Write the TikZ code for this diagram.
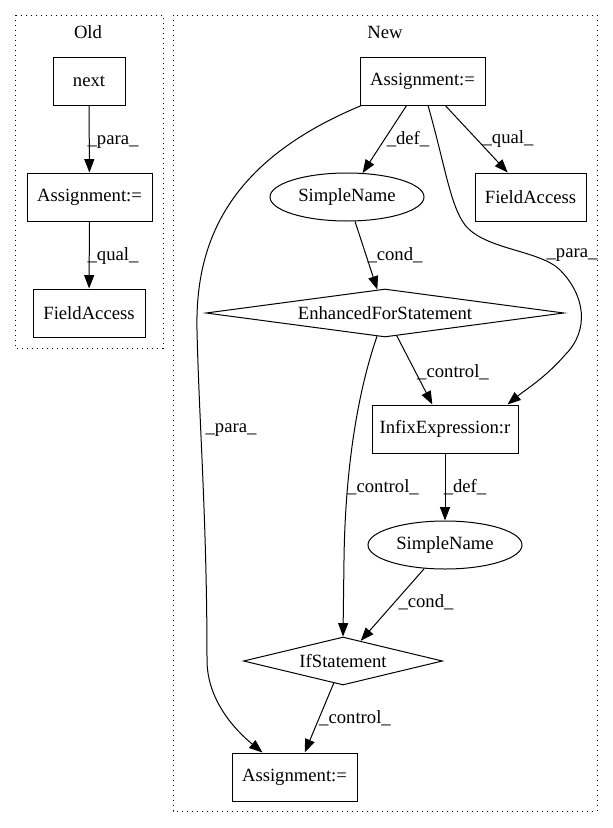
\documentclass[tikz,border=0pt]{standalone}
\usepackage{fontspec}
\setmainfont{Liberation Serif}
\usetikzlibrary{shapes.geometric,arrows.meta,calc}
\begin{document}
\begin{tikzpicture}[x=0.75pt,y=-0.75pt,
  every node/.style={font=\fontsize{14}{16}\selectfont, inner sep=0pt},
  box/.style={draw, rectangle, line width=0.75pt, minimum height=36pt},
  ell/.style={draw, ellipse, line width=0.75pt, minimum width=115.5pt, minimum height=36pt},
  dia/.style={draw, diamond, line width=0.75pt, minimum height=36pt},
  edge/.style={line width=0.75pt, -{Triangle[length=10pt,width=7.5pt]}},
  cluster/.style={draw, dash pattern=on 0.75pt off 3pt, line width=0.75pt}]
\useasboundingbox (0,0) rectangle (613,828);
% clusters
\draw[cluster] (15,15) rectangle (163,348);
\draw[cluster] (173,15) rectangle (597,811);
\node at (88,32) {Old};
\node at (385,32) {New};
% Old nodes
\node[box, minimum width=54pt] (next) at (89,81) {next};
\node[box, minimum width=93.75pt] (aold) at (89.5,197) {Assignment:=};
\node[box, minimum width=84pt] (faold) at (89,313) {FieldAccess};
\draw[edge] (next) -- (aold);
\draw[edge] (aold) -- (faold);
\node at (113,142) {\_para\_};
\node at (113,256) {\_qual\_};
% New nodes
\node[box, minimum width=93.75pt] (a1) at (422.5,81) {Assignment:=};
\node[ell] (sn1) at (347,197) {SimpleName};
\node[box, minimum width=83.25pt] (fa) at (530.5,197) {FieldAccess};
\node[dia, shape aspect=7.46, minimum width=268.5pt] (efs) at (385,313) {EnhancedForStatement};
\node[box, minimum width=109.5pt] (inf) at (445,429) {InfixExpression:r};
\node[ell] (sn2) at (445,545) {SimpleName};
\node[dia, shape aspect=4.15, minimum width=149.25pt] (ifs) at (343,661) {IfStatement};
\node[box, minimum width=93.75pt] (a3) at (294.5,777) {Assignment:=};
% edges
\draw[edge] (a1) -- (sn1);
\draw[edge] (a1) -- (fa);
\draw[edge] (sn1) -- (efs);
\draw[edge] (efs) -- (inf);
\draw[edge] (inf) -- (sn2);
\draw[edge] (sn2) -- (ifs);
\draw[edge] (ifs) -- (a3);
\draw[edge] ($(a1.south west)+(2,0)$) .. controls (230,160) and (195,240) .. (197,330)
   .. controls (199,420) and (207,520) .. (207,660)
   .. controls (207,700) and (235,730) .. ($(a3.north west)+(31,0)$);
\draw[edge] ($(a1.south)+(5.5,0)$) .. controls (445,165) and (450,205) .. (465,225)
   .. controls (485,250) and (540,250) .. (560,270)
   .. controls (585,295) and (590,330) .. (565,355)
   .. controls (545,378) and (525,390) .. ($(inf.north east)+(-11,0)$);
\draw[edge] ($(efs.south)+(-8,-1.2)$) .. controls (355,400) and (345,480) .. (344,560) -- (ifs.north);
% labels
\node at (408,139) {\_def\_};
\node at (508,139) {\_qual\_};
\node at (572,255) {\_para\_};
\node at (395,255) {\_cond\_};
\node at (453,372) {\_control\_};
\node at (231,430) {\_para\_};
\node at (383,487) {\_control\_};
\node at (465,487) {\_def\_};
\node at (426,602) {\_cond\_};
\node at (355,718) {\_control\_};
\end{tikzpicture}
\end{document}
